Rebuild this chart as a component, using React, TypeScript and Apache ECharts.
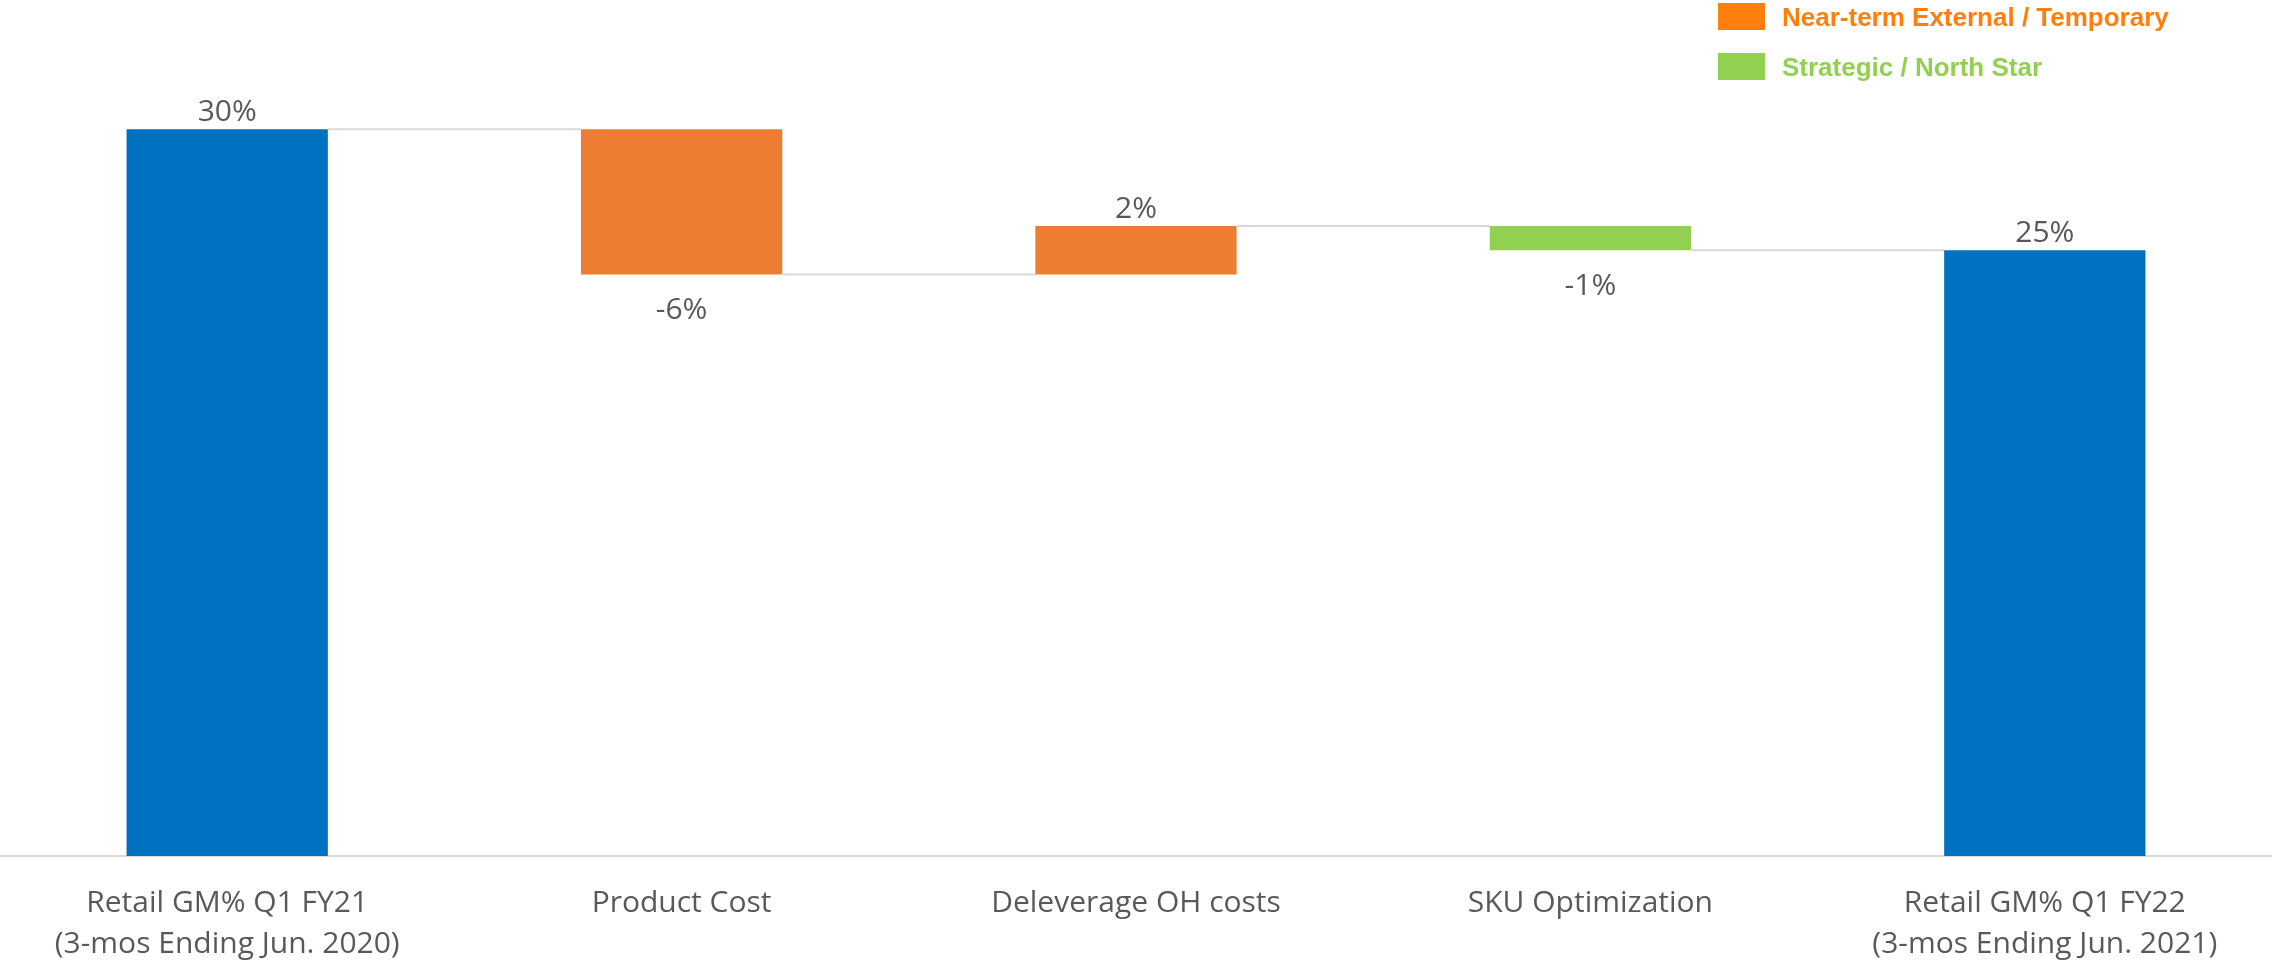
import React, { useEffect, useRef } from "react";
import * as echarts from "echarts";

const categories = [
  "Retail GM% Q1 FY21\n(3-mos Ending Jun. 2020)",
  "Product Cost",
  "Deleverage OH costs",
  "SKU Optimization",
  "Retail GM% Q1 FY22\n(3-mos Ending Jun. 2021)",
];
const values = [30, -6, 2, -1, 25];
const kinds = ["total", "external", "external", "strategic", "total"];
const valueLabels = ["30%", "-6%", "2%", "-1%", "25%"];
const legendNames = ["Near-term External / Temporary", "Strategic / North Star"];

const barColors: Record<string, string> = {
  total: "#0070C0",
  external: "#ED7D31",
  strategic: "#92D050",
};
const legendColors = ["#FF7F0E", "#92D050"];

export default function App() {
  const ref = useRef<HTMLDivElement>(null);
  useEffect(() => {
    if (!ref.current) return;
    const chart = echarts.init(ref.current, undefined, { renderer: "svg" });

    let running = 0;
    const rows = values.map((v, i) => {
      let start: number, end: number;
      if (kinds[i] === "total") {
        start = 0;
        end = v;
        running = v;
      } else {
        start = running;
        end = running + v;
        running = end;
      }
      return [i, start, end, v];
    });

    const labelFont = "Open Sans";

    chart.setOption({
      animation: false,
      grid: { left: 0, right: 0, top: 8, bottom: 106, containLabel: false },
      legend: {
        orient: "vertical",
        left: 1718,
        top: 3,
        padding: 0,
        itemWidth: 47,
        itemHeight: 27,
        itemGap: 23,
        icon: "rect",
        selectedMode: false,
        data: legendNames.map((n, i) => ({
          name: n,
          itemStyle: { color: legendColors[i] },
          textStyle: {
            color: legendColors[i],
            fontWeight: "bold",
            fontSize: 26,
            fontFamily: "Liberation Sans",
            padding: [0, 0, 0, 12],
          },
        })),
      },
      xAxis: {
        type: "category",
        data: categories,
        axisLine: { lineStyle: { color: "#d9d9d9", width: 2 } },
        axisTick: { show: false },
        axisLabel: {
          color: "#595959",
          fontSize: 30,
          fontFamily: labelFont,
          lineHeight: 41,
          margin: 24,
          interval: 0,
        },
      },
      yAxis: {
        type: "value",
        min: 0,
        max: 35,
        show: false,
        splitLine: { show: false },
      },
      series: [
        {
          type: "custom",
          name: "waterfall",
          data: rows,
          encode: { x: 0, y: [1, 2] },
          renderItem: (params: any, api: any) => {
            const idx = api.value(0);
            const start = api.value(1);
            const end = api.value(2);
            const v = api.value(3);
            const band = api.size([1, 0])[0];
            const bw = band * 0.443;
            const p0 = api.coord([idx, start]);
            const p1 = api.coord([idx, end]);
            const top = Math.min(p0[1], p1[1]);
            const bottom = Math.max(p0[1], p1[1]);
            const x = p0[0] - bw / 2;
            const children: any[] = [
              {
                type: "rect",
                shape: { x, y: top, width: bw, height: bottom - top },
                style: { fill: barColors[kinds[idx]] },
              },
            ];
            if (idx < values.length - 1) {
              children.push({
                type: "line",
                shape: {
                  x1: x + bw,
                  y1: p1[1],
                  x2: x + band,
                  y2: p1[1],
                },
                style: { stroke: "#d9d9d9", lineWidth: 2 },
              });
            }
            const above = v >= 0;
            children.push({
              type: "text",
              style: {
                text: valueLabels[idx],
                x: p0[0],
                y: above ? top - 20 : bottom + 33,
                align: "center",
                verticalAlign: "middle",
                fill: "#595959",
                fontSize: 30,
                fontFamily: labelFont,
              },
            });
            return { type: "group", children };
          },
        },
        ...legendNames.map((n, i) => ({
          type: "bar",
          name: n,
          data: [],
          itemStyle: { color: legendColors[i] },
        })),
      ],
    });
    return () => chart.dispose();
  }, []);
  return (
    <div
      ref={ref}
      style={{ position: "fixed", left: 0, top: 0, width: 2272, height: 962 }}
    />
  );
}
